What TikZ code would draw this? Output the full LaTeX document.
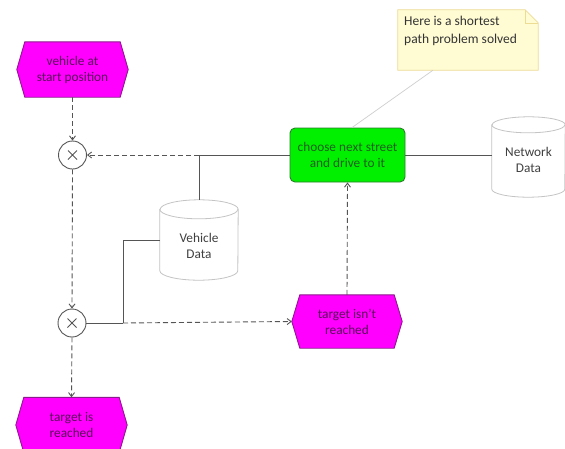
\documentclass[tikz,border=0pt]{standalone}
\usepackage{fontspec}
\setmainfont{Carlito}
\usetikzlibrary{arrows.meta,backgrounds}

\definecolor{evfill}{HTML}{FF00FF}
\definecolor{evline}{HTML}{8C1A8C}
\definecolor{evtext}{HTML}{5A0A5A}
\definecolor{fnfill}{HTML}{00F000}
\definecolor{fnline}{HTML}{2E7D2E}
\definecolor{fntext}{HTML}{1F5F1F}
\definecolor{flow}{HTML}{555555}
\definecolor{storeline}{HTML}{C4C4C4}
\definecolor{storetext}{HTML}{404040}
\definecolor{notefill}{HTML}{FFFCD4}
\definecolor{noteline}{HTML}{EDDC94}
\definecolor{notelink}{HTML}{CFCFCF}

\tikzset{
  lbl/.style={font=\fontsize{13.3}{16}\selectfont, align=center, inner sep=0pt},
  evbox/.style={lbl, text=evtext, minimum width=111pt, minimum height=55pt},
  evshape/.style={fill=evfill, draw=evline, line width=0.9pt, line join=miter},
  fnbox/.style={lbl, text=fntext, draw=fnline, fill=fnfill, line width=0.9pt,
    rounded corners=5pt, minimum width=115pt, minimum height=54pt},
  xorbox/.style={circle, draw=flow, fill=white, line width=0.9pt, minimum size=28pt,
    inner sep=0pt,
    path picture={\draw[flow, line width=0.9pt]
      ([shift={(-4.5pt,-4.5pt)}]path picture bounding box.center) --
      ([shift={(4.5pt,4.5pt)}]path picture bounding box.center)
      ([shift={(-4.5pt,4.5pt)}]path picture bounding box.center) --
      ([shift={(4.5pt,-4.5pt)}]path picture bounding box.center);}},
  cylbox/.style={inner sep=0pt},
  storeshape/.style={draw=storeline, fill=white, line width=0.8pt},
  storelbl/.style={lbl, text=storetext},
  notebox/.style={minimum width=140pt, minimum height=60pt, inner sep=0pt},
  notelbl/.style={font=\fontsize{13.5}{18}\selectfont, align=left, inner sep=0pt, text=black!80},
  ctrl/.style={draw=flow, line width=0.9pt, dashed, dash pattern=on 5pt off 3pt,
    -{Straight Barb[length=4pt,width=6pt]}},
  link/.style={draw=flow, line width=0.9pt},
  noteconn/.style={draw=notelink, line width=0.7pt}
}

% hexagon drawn behind an event node
\newcommand{\evhex}[1]{%
  \begin{pgfonlayer}{background}
    \draw[evshape] ([xshift=8pt]#1.north west) -- ([xshift=-8pt]#1.north east)
      -- (#1.east) -- ([xshift=-8pt]#1.south east) -- ([xshift=8pt]#1.south west)
      -- (#1.west) -- cycle;
  \end{pgfonlayer}}

% data store cylinder drawn behind a node: #1 node, #2 x radius, #3 y radius
\newcommand{\datacyl}[3]{%
  \begin{pgfonlayer}{background}
    \draw[storeshape] ([yshift=-#3pt]#1.north west) -- ([yshift=#3pt]#1.south west)
      arc[start angle=180, end angle=360, x radius=#2pt, y radius=#3pt]
      -- ([yshift=-#3pt]#1.north east)
      arc[start angle=0, end angle=180, x radius=#2pt, y radius=#3pt] -- cycle;
    \draw[storeshape, fill=none] ([yshift=-#3pt]#1.north west)
      arc[start angle=180, end angle=360, x radius=#2pt, y radius=#3pt];
  \end{pgfonlayer}}

\begin{document}
\begin{tikzpicture}[x=1pt, y=-1pt]
  \useasboundingbox (0,0) rectangle (565,448);
  \clip (0,0) rectangle (565,448);
  \begin{pgfonlayer}{background}
    \fill[white] (0,0) rectangle (565,448);
  \end{pgfonlayer}

  % events
  \node[evbox] (se) at (72.5,69.5) {vehicle at\\start position};
  \evhex{se}
  \node[evbox] (tr) at (71.5,425) {target is\\reached};
  \evhex{tr}
  \node[evbox, minimum width=110pt, minimum height=53pt] (tn) at (347,321.5) {target isn't\\reached};
  \evhex{tn}

  % function
  \node[fnbox] (ch) at (347.5,155) {choose next street\\and drive to it};

  % connectors
  \node[xorbox] (x1) at (72.5,155) {};
  \node[xorbox] (x2) at (72,323) {};

  % data stores
  \node[cylbox, minimum width=78pt, minimum height=80pt] (vd) at (199,240) {};
  \datacyl{vd}{39}{9.5}
  \node[storelbl] (vdt) at (199,246) {Vehicle\\Data};
  \node[cylbox, minimum width=73pt, minimum height=80pt] (nd) at (528.5,157) {};
  \datacyl{nd}{36.5}{8}
  \node[storelbl] (ndt) at (528.5,160) {Network\\Data};

  % annotation
  \node[notebox] (nt) at (468,40) {};
  \begin{pgfonlayer}{background}
    \draw[fill=notefill, draw=noteline, line width=0.8pt]
      (nt.north west) -- ([xshift=-13pt]nt.north east) -- ([yshift=-13pt]nt.north east)
      -- (nt.south east) -- (nt.south west) -- cycle;
    \draw[draw=noteline, line width=0.6pt]
      ([xshift=-13pt]nt.north east) -- ([xshift=-13pt,yshift=-13pt]nt.north east)
      -- ([yshift=-13pt]nt.north east);
  \end{pgfonlayer}
  \node[notelbl, anchor=north west] (ntt) at (404,16) {Here is a shortest\\path problem solved};

  % junctions
  \coordinate (j1) at (199,155);
  \coordinate (j2) at (123,323);

  % control flow
  \draw[ctrl] (se.south) -- (x1.north);
  \draw[ctrl] (x1.south) -- (x2.north);
  \draw[ctrl] (x2.south) -- (tr.north);
  \draw[link] (ch.west) -- (j1);
  \draw[ctrl] (j1) -- (x1.east);
  \draw[link] (x2.east) -- (j2);
  \draw[ctrl] (j2) -- (tn.west);
  \draw[ctrl] (tn.north) -- (ch.south);

  % data links
  \draw[link] (vd.north) -- (j1);
  \draw[link] (vd.west) -| (j2);
  \draw[link] (ch.east) -- (ch.east -| nd.west);

  % annotation link
  \draw[noteconn] ([xshift=-35pt]nt.south) -- ([xshift=4.5pt]ch.north);
\end{tikzpicture}
\end{document}
